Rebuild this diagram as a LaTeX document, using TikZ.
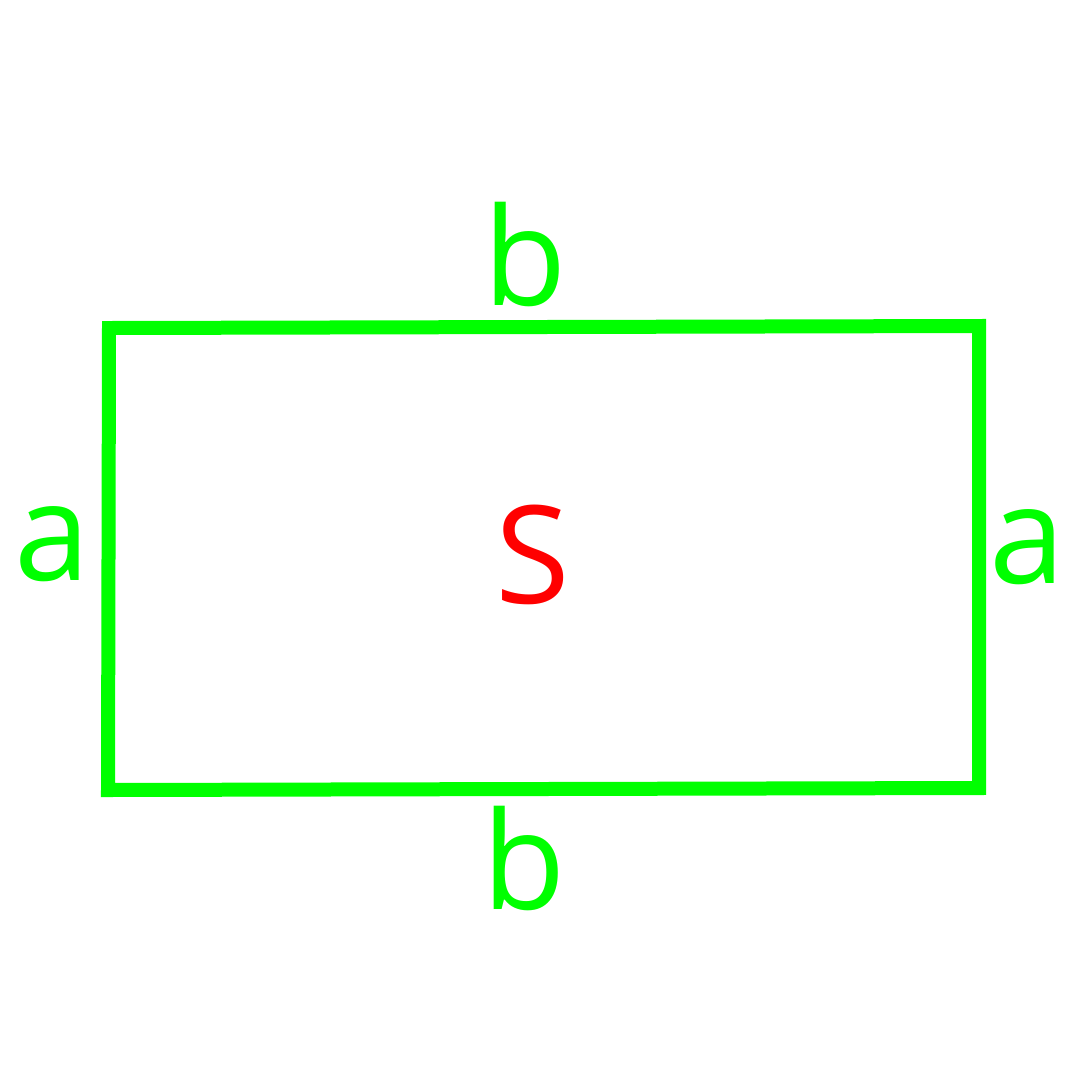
\documentclass[tikz,border=0pt]{standalone}
\usepackage{fontspec}
\setmainfont{Open Sans}
\definecolor{lgreen}{HTML}{00FF00}
\definecolor{lred}{HTML}{FF0000}
\begin{document}
\begin{tikzpicture}[x=1pt,y=-1pt,
  lbl/.style={anchor=base,inner sep=0pt,font=\fontsize{136}{160}\selectfont},
  side/.style={lbl,text=lgreen},
  edge/.style={draw=lgreen,line width=14pt,line join=miter}]
\useasboundingbox[fill=white] (0,0) rectangle (1080,1080);
\draw[edge] (109,328) -- (979,326) -- (979,788) -- (108,790) -- cycle;
\node[side] (btop) at (525,305) {b};
\node[side] (bbot) at (524,909) {b};
\node[side] (aleft) at (52,580) {a};
\node[side] (aright) at (1027,583) {a};
\node[lbl,text=lred] (s) at (533,603) {S};
\end{tikzpicture}
\end{document}
